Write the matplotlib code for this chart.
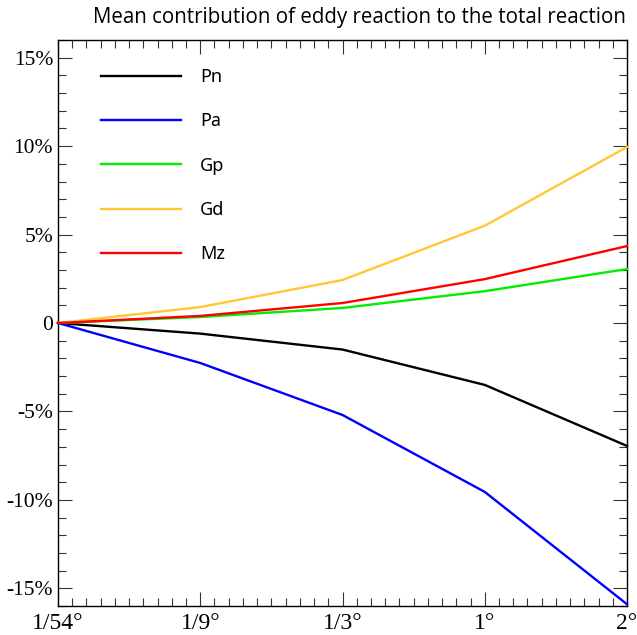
import numpy as np
import matplotlib
matplotlib.use("Agg")
import matplotlib.pyplot as plt
from matplotlib.ticker import MultipleLocator, FixedLocator, FuncFormatter

# ------------------
# Data
# ------------------
resolutions = ["1/54°", "1/9°", "1/3°", "1°", "2°"]
pn = [0, -0.6, -1.5, -3.5, -6.95]
pa = [0, -2.26, -5.2, -9.55, -15.9]
gp = [0, 0.34, 0.85, 1.8, 3.05]
gd = [0, 0.9, 2.43, 5.5, 9.95]
mz = [0, 0.4, 1.13, 2.48, 4.35]

series_names = ["Pn", "Pa", "Gp", "Gd", "Mz"]
series_colors = ["#000000", "#0000ff", "#00ee00", "#ffc832", "#ff0000"]

# ------------------
# Plot
# ------------------
fig = plt.figure(figsize=(6.37, 6.35), dpi=100)
ax = fig.add_axes([58/637, 29/635, 569/637, 566/635])

xpos = np.arange(len(resolutions))
for vals, name, col in zip([pn, pa, gp, gd, mz], series_names, series_colors):
    ax.plot(xpos, vals, color=col, lw=1.7, label=name, clip_on=False, zorder=3)

ax.set_xlim(0, 4)
ax.set_ylim(-16, 16)

ax.xaxis.set_major_locator(FixedLocator(xpos))
ax.xaxis.set_minor_locator(MultipleLocator(0.1))
ax.set_xticklabels(resolutions)
ax.yaxis.set_major_locator(FixedLocator([-15, -10, -5, 0, 5, 10, 15]))
ax.yaxis.set_minor_locator(MultipleLocator(1))
ax.yaxis.set_major_formatter(FuncFormatter(lambda v, p: "0" if v == 0 else "%d%%" % v))

ax.tick_params(which="both", direction="in", top=True, right=True, width=0.8,
               color="#333333")
ax.tick_params(which="major", length=10)
ax.tick_params(which="minor", length=6)
ax.tick_params(axis="x", which="major", pad=5)
for lab in ax.get_xticklabels():
    lab.set_fontfamily("Liberation Serif")
    lab.set_fontsize(17)
for lab in ax.get_yticklabels():
    lab.set_fontfamily("Liberation Serif")
    lab.set_fontsize(15.5)
for sp in ax.spines.values():
    sp.set_linewidth(1.0)

# title sits a bit right of the axes centre in the original
fig.text(359/637, 1 - 17/635, "Mean contribution of eddy reaction to the total reaction",
         ha="center", va="center", fontfamily="Open Sans", fontsize=14.8)

leg = ax.legend(loc="upper left", bbox_to_anchor=(0.0756, 0.950), frameon=False,
                borderpad=0, borderaxespad=0,
                handlelength=4.45, handletextpad=1.05, labelspacing=1.45,
                prop={"family": "Noto Sans", "size": 13})

fig.savefig("out.png", dpi=100)
